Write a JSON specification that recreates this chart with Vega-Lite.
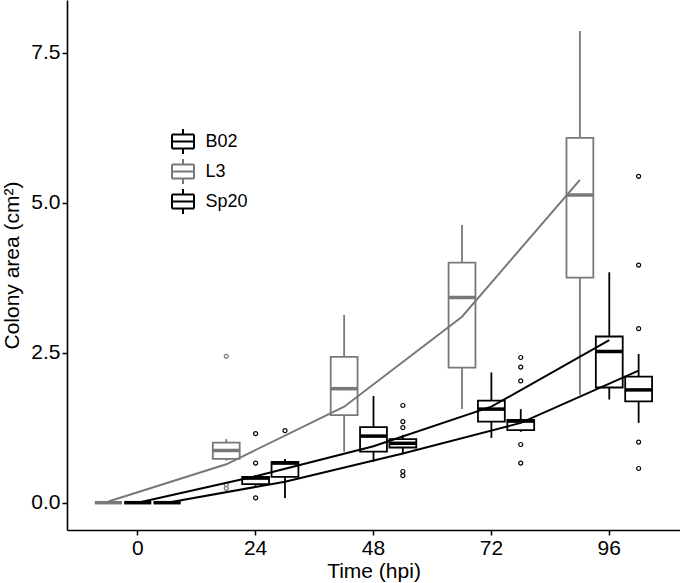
{
  "$schema": "https://vega.github.io/schema/vega-lite/v6.json",
  "width": 613,
  "height": 530,
  "autosize": "none",
  "padding": {"left": 67, "top": 0, "right": 0, "bottom": 53},
  "background": "white",
  "config": {
    "font": "Liberation Sans",
    "view": {"stroke": null},
    "axis": {
      "grid": false,
      "domainColor": "black",
      "domainWidth": 1.6,
      "tickColor": "black",
      "tickWidth": 1.5,
      "tickSize": 5,
      "labelColor": "black",
      "labelFont": "Liberation Sans",
      "labelFontSize": 21,
      "labelPadding": 2,
      "titleFont": "Liberation Sans",
      "titleFontSize": 21,
      "titleFontWeight": "normal",
      "titleColor": "black"
    }
  },
  "datasets": {
    "boxes": [
      {"strain": "L3", "time": 0, "lw": 0, "q1": 0, "med": 0, "q3": 0, "uw": 0},
      {"strain": "B02", "time": 0, "lw": 0, "q1": 0, "med": 0, "q3": 0, "uw": 0},
      {"strain": "Sp20", "time": 0, "lw": 0, "q1": 0, "med": 0, "q3": 0, "uw": 0},
      {"strain": "L3", "time": 24, "lw": 0.70, "q1": 0.73, "med": 0.87, "q3": 1.00, "uw": 1.06},
      {"strain": "B02", "time": 24, "lw": 0.28, "q1": 0.31, "med": 0.41, "q3": 0.43, "uw": 0.46},
      {"strain": "Sp20", "time": 24, "lw": 0.08, "q1": 0.43, "med": 0.66, "q3": 0.68, "uw": 0.73},
      {"strain": "L3", "time": 48, "lw": 0.85, "q1": 1.46, "med": 1.90, "q3": 2.43, "uw": 3.13},
      {"strain": "B02", "time": 48, "lw": 0.68, "q1": 0.85, "med": 1.11, "q3": 1.26, "uw": 1.78},
      {"strain": "Sp20", "time": 48, "lw": 0.83, "q1": 0.92, "med": 0.99, "q3": 1.06, "uw": 1.13},
      {"strain": "L3", "time": 72, "lw": 1.56, "q1": 2.25, "med": 3.42, "q3": 4.00, "uw": 4.63},
      {"strain": "B02", "time": 72, "lw": 1.08, "q1": 1.35, "med": 1.56, "q3": 1.70, "uw": 2.17},
      {"strain": "Sp20", "time": 72, "lw": 1.18, "q1": 1.21, "med": 1.36, "q3": 1.38, "uw": 1.56},
      {"strain": "L3", "time": 96, "lw": 1.80, "q1": 3.75, "med": 5.13, "q3": 6.08, "uw": 7.86},
      {"strain": "B02", "time": 96, "lw": 1.72, "q1": 1.92, "med": 2.52, "q3": 2.77, "uw": 3.84},
      {"strain": "Sp20", "time": 96, "lw": 1.33, "q1": 1.69, "med": 1.88, "q3": 2.10, "uw": 2.48}
    ],
    "outliers": [
      {"strain": "L3", "time": 24, "value": 2.44},
      {"strain": "L3", "time": 24, "value": 0.24},
      {"strain": "L3", "time": 24, "value": 0.30},
      {"strain": "B02", "time": 24, "value": 1.15},
      {"strain": "B02", "time": 24, "value": 0.66},
      {"strain": "B02", "time": 24, "value": 0.08},
      {"strain": "Sp20", "time": 24, "value": 1.20},
      {"strain": "Sp20", "time": 48, "value": 1.62},
      {"strain": "Sp20", "time": 48, "value": 1.35},
      {"strain": "Sp20", "time": 48, "value": 1.25},
      {"strain": "Sp20", "time": 48, "value": 0.52},
      {"strain": "Sp20", "time": 48, "value": 0.45},
      {"strain": "Sp20", "time": 72, "value": 2.42},
      {"strain": "Sp20", "time": 72, "value": 2.26},
      {"strain": "Sp20", "time": 72, "value": 2.03},
      {"strain": "Sp20", "time": 72, "value": 0.97},
      {"strain": "Sp20", "time": 72, "value": 0.66},
      {"strain": "Sp20", "time": 96, "value": 5.44},
      {"strain": "Sp20", "time": 96, "value": 3.96},
      {"strain": "Sp20", "time": 96, "value": 2.90},
      {"strain": "Sp20", "time": 96, "value": 1.01},
      {"strain": "Sp20", "time": 96, "value": 0.57}
    ],
    "fits": [
      {"strain": "L3", "time": 0, "fit": 0.02},
      {"strain": "L3", "time": 24, "fit": 0.64},
      {"strain": "L3", "time": 48, "fit": 1.60},
      {"strain": "L3", "time": 72, "fit": 3.10},
      {"strain": "L3", "time": 96, "fit": 5.38},
      {"strain": "B02", "time": 0, "fit": 0.0},
      {"strain": "B02", "time": 24, "fit": 0.44},
      {"strain": "B02", "time": 48, "fit": 0.94},
      {"strain": "B02", "time": 72, "fit": 1.60},
      {"strain": "B02", "time": 96, "fit": 2.71},
      {"strain": "Sp20", "time": 0, "fit": 0.0},
      {"strain": "Sp20", "time": 24, "fit": 0.35},
      {"strain": "Sp20", "time": 48, "fit": 0.82},
      {"strain": "Sp20", "time": 72, "fit": 1.33},
      {"strain": "Sp20", "time": 96, "fit": 2.20}
    ]
  },
  "encoding": {
    "x": {
      "field": "time",
      "type": "ordinal",
      "title": "Time (hpi)",
      "scale": {"type": "band", "paddingInner": 0, "paddingOuter": 0.1},
      "axis": {"labelAngle": 0, "bandPosition": 0.5, "titlePadding": 2}
    },
    "xOffset": {
      "field": "strain",
      "type": "nominal",
      "scale": {"domain": ["L3", "B02", "Sp20"], "paddingInner": 0.085, "paddingOuter": 0.55}
    },
    "color": {
      "field": "strain",
      "type": "nominal",
      "scale": {"domain": ["B02", "L3", "Sp20"], "range": ["#000000", "#787878", "#000000"]},
      "legend": {
        "title": null,
        "orient": "none",
        "legendX": 102.5,
        "legendY": 128,
        "padding": 0,
        "symbolType": "M-0.88,-0.56H0.88 M0.88,-0.56V0.56 M0.88,0.56H-0.88 M-0.88,0.56V-0.56 M-0.88,0H0.88 M0,-0.56V-1 M0,0.56V1",
        "symbolSize": 625,
        "symbolStrokeWidth": 2,
        "symbolOpacity": 1,
        "labelFontSize": 18,
        "labelFont": "Liberation Sans",
        "labelColor": "black",
        "labelOffset": 9,
        "rowPadding": -4,
        "encode": {
          "symbols": {
            "update": {
              "stroke": {"scale": "color", "field": "value"},
              "strokeWidth": {"value": 2},
              "opacity": {"value": 1},
              "size": {"value": 625},
              "shape": {"value": "M-0.88,-0.56H0.88 M0.88,-0.56V0.56 M0.88,0.56H-0.88 M-0.88,0.56V-0.56 M-0.88,0H0.88 M0,-0.56V-1 M0,0.56V1"}
            }
          }
        }
      }
    }
  },
  "layer": [
    {
      "data": {"name": "boxes"},
      "mark": {"type": "rule", "strokeWidth": 1.8, "opacity": 1},
      "encoding": {
        "y": {
          "field": "lw",
          "type": "quantitative",
          "title": "Colony area (cm²)",
          "scale": {"domain": [-0.455, 8.378], "nice": false, "zero": false},
          "axis": {"values": [0, 2.5, 5, 7.5], "format": ".1f", "titlePadding": 8}
        },
        "y2": {"field": "q1"}
      }
    },
    {
      "data": {"name": "boxes"},
      "mark": {"type": "rule", "strokeWidth": 1.8, "opacity": 1},
      "encoding": {
        "y": {"field": "q3", "type": "quantitative", "title": "Colony area (cm²)"},
        "y2": {"field": "uw"}
      }
    },
    {
      "data": {"name": "boxes"},
      "mark": {"type": "bar", "filled": false, "strokeWidth": 1.8, "opacity": 1},
      "encoding": {
        "y": {"field": "q1", "type": "quantitative", "title": "Colony area (cm²)"},
        "y2": {"field": "q3"}
      }
    },
    {
      "data": {"name": "boxes"},
      "mark": {"type": "tick", "thickness": 3.5, "size": 27, "orient": "horizontal", "opacity": 1},
      "encoding": {
        "y": {"field": "med", "type": "quantitative", "title": "Colony area (cm²)"}
      }
    },
    {
      "data": {"name": "outliers"},
      "mark": {"type": "point", "shape": "circle", "filled": false, "size": 16, "strokeWidth": 1.2, "opacity": 1},
      "encoding": {
        "y": {"field": "value", "type": "quantitative", "title": "Colony area (cm²)"}
      }
    },
    {
      "data": {"name": "fits"},
      "mark": {"type": "line", "strokeWidth": 2, "opacity": 1},
      "encoding": {
        "y": {"field": "fit", "type": "quantitative", "title": "Colony area (cm²)"},
        "detail": {"field": "strain"}
      }
    }
  ]
}
